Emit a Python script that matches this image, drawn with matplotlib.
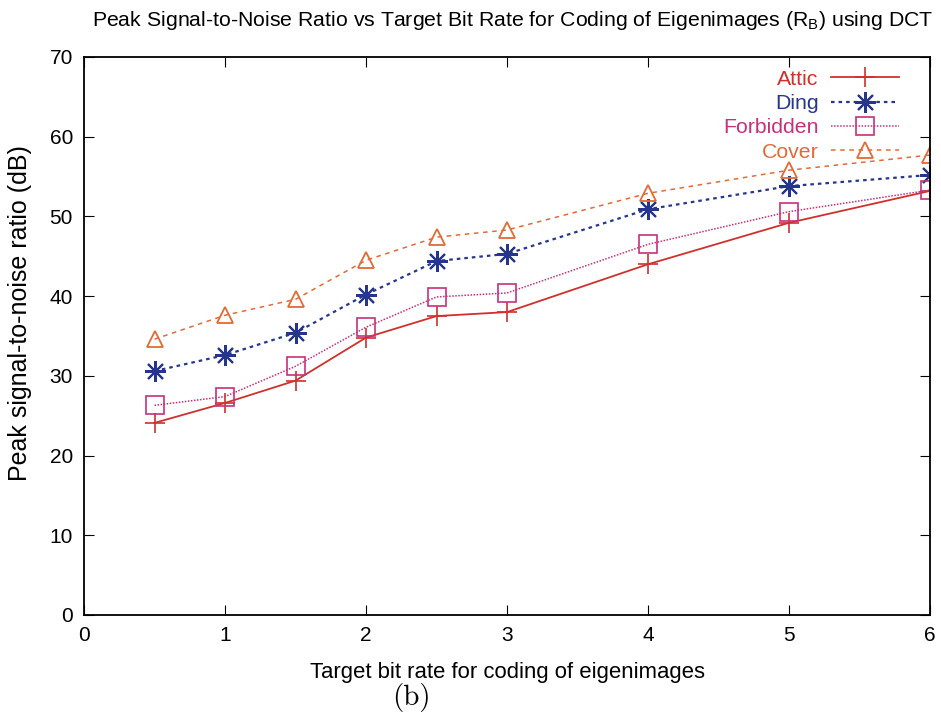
import matplotlib
matplotlib.use("Agg")
import matplotlib.pyplot as plt

plt.rcParams['font.family'] = ['Liberation Sans', 'DejaVu Sans']

rates = [0.5, 1, 1.5, 2, 2.5, 3, 4, 5, 6]
attic = [24.1, 26.6, 29.4, 34.8, 37.5, 38.0, 44.0, 49.2, 53.2]
ding = [30.6, 32.6, 35.4, 40.2, 44.4, 45.3, 50.9, 53.8, 55.2]
forbidden = [26.3, 27.4, 31.2, 36.1, 39.9, 40.4, 46.5, 50.6, 53.3]
cover = [34.6, 37.6, 39.6, 44.5, 47.4, 48.3, 52.9, 55.8, 57.7]
xticks = [0, 1, 2, 3, 4, 5, 6]
yticks = [0, 10, 20, 30, 40, 50, 60, 70]

fig = plt.figure(figsize=(9.41, 7.17), dpi=100)
ax = fig.add_axes([84/941, 1-615/717, (930-84)/941, (615-57)/717])

c_attic, c_ding, c_forb, c_cover = '#d0302c', '#26368c', '#c8307a', '#e46a35'
ax.plot(rates, attic, color=c_attic, lw=1.3, ls='-', marker='+', ms=14, mew=1.2, label='Attic')
ax.plot(rates, ding, color=c_ding, lw=1.6, ls=(0, (1.6, 1.8)), marker=(8, 2, 0), ms=15, mew=1.5, label='Ding')
ax.plot(rates, forbidden, color=c_forb, lw=1.1, ls=(0, (1, 1)), marker='s', ms=13, mfc='none', mew=1.2, label='Forbidden')
ax.plot(rates, cover, color=c_cover, lw=1.1, ls=(0, (3, 3)), marker='^', ms=12, mfc='none', mew=1.3, label='Cover')

ax.set_xlim(0, 6)
ax.set_ylim(0, 70)
ax.set_xticks(xticks)
ax.set_yticks(yticks)
ax.tick_params(direction='in', top=True, right=True, length=7, labelsize=15, pad=8)
for s in ax.spines.values():
    s.set_linewidth(1.3)

ax.set_xlabel('Target bit rate for coding of eigenimages', fontsize=15.9, labelpad=12)
ax.set_ylabel('Peak signal-to-noise ratio (dB)', fontsize=18)
ax.yaxis.set_label_coords(-0.062, 0.541)
fig.text(513/941, 1-20/717, 'Peak Signal-to-Noise Ratio vs Target Bit Rate for Coding of Eigenimages (R$_\\mathregular{B}$) using DCT',
         ha='center', va='center', fontsize=15.3)
fig.text(411/941, 1-697/717, '(b)', ha='center', va='center', fontsize=21, family=['cmr10', 'DejaVu Serif'])

leg = ax.legend(loc='upper right', frameon=False, markerfirst=False, fontsize=15.3,
                handlelength=3.2, labelspacing=0.25, borderaxespad=0.2, handletextpad=0.6,
                bbox_to_anchor=(0.979, 1.0))
for t, c in zip(leg.get_texts(), [c_attic, c_ding, c_forb, c_cover]):
    t.set_color(c)
    t.set_ha('right')

fig.savefig('out.png', dpi=100)
